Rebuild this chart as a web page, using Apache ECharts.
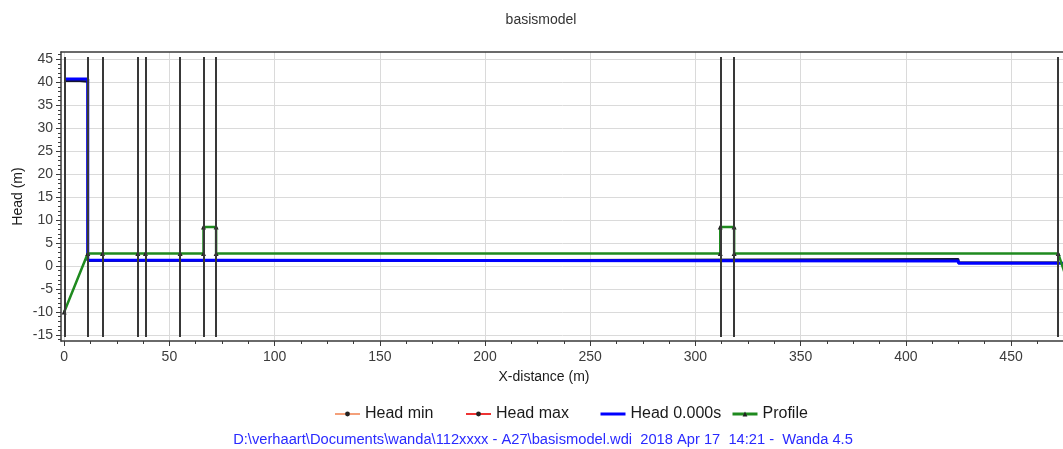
<!DOCTYPE html>
<html>
<head>
<meta charset="utf-8">
<script src="https://cdn.jsdelivr.net/npm/echarts@6/dist/echarts.min.js"></script>
<style>
html,body{margin:0;padding:0;background:#fff;overflow:hidden;}
#chart{width:1063px;height:449px;}
</style>
</head>
<body>
<div id="chart"></div>
<script>
// ---- data ----
const xTicks = [0, 50, 100, 150, 200, 250, 300, 350, 400, 450];
const yTicks = [-15, -10, -5, 0, 5, 10, 15, 20, 25, 30, 35, 40, 45];
const nodeX = [0.4, 11.2, 18.2, 35, 38.6, 55.1, 66.2, 72.2, 311.8, 318.4, 472.4];
const nodeYRange = [-15.45, 45.5];
const profile = [[0, -10], [11.2, 2.75], [18.2, 2.75], [35, 2.75], [38.6, 2.75], [55.1, 2.75],
  [66.2, 2.75], [66.2, 8.5], [72.2, 8.5], [72.2, 2.75], [311.8, 2.75], [311.8, 8.5],
  [318.4, 8.5], [318.4, 2.75], [472.4, 2.75], [476, -2.2]];
const head0 = [[0, 40.7], [11.2, 40.7], [11.2, 1.25], [72.2, 1.25], [72.2, 1.1], [425, 1.1],
  [425, 0.6], [478, 0.6]];
const headMin = [[0, 40.3], [7.5, 40.3], [8, 40.1], [11.2, 40.1], [11.2, 1.15], [425, 1.15],
  [425, 0.7], [472.4, 0.7]];
const headMax = [[0, 40.55], [11.2, 40.55], [11.2, 1.2], [140, 1.2], [140, 1.55], [425, 1.55],
  [425, 0.75], [472.4, 0.75]];

const XMIN = -1.52, XMAX = 484.2, YMIN = -16.31, YMAX = 46.59;
const FONT = 'Liberation Sans, Arial, sans-serif';

// minor tick positions (subdivisions of the major ticks)
const xMinor = [];
for (let i = 0; i < xTicks.length; i++) for (let k = 0; k < 4; k++) xMinor.push(xTicks[i] + k * 12.5);
const yMinor = [];
for (let v = Math.ceil(YMIN); v <= Math.floor(YMAX); v++) yMinor.push(v);

const chart = echarts.init(document.getElementById('chart'), null, {renderer: 'canvas'});
const axisDark = '#3a3a3a';

const legendBase = {
  top: 406, padding: 0, itemWidth: 25, itemHeight: 6, itemGap: 0,
  textStyle: {fontFamily: FONT, fontSize: 16, color: '#1a1a1a'}
};

const option = {
  animation: false,
  backgroundColor: '#ffffff',
  title: {
    text: 'basismodel', left: 536, top: 8, textAlign: 'center',
    textStyle: {fontFamily: FONT, fontSize: 14, fontWeight: 'normal', color: '#333'}
  },
  graphic: [{
    type: 'text', x: 543, y: 440,
    style: {
      text: 'D:\\verhaart\\Documents\\wanda\\112xxxx - A27\\basismodel.wdi  2018 Apr 17  14:21 -  Wanda 4.5',
      fill: '#2a2aff', font: '14.7px ' + FONT, textAlign: 'center', textVerticalAlign: 'middle'
    }
  }],
  legend: [
    Object.assign({}, legendBase, {left: 334, data: [{name: 'Head min', lineStyle: {color: '#f4a07a', width: 2}, itemStyle: {color: '#222'}}]}),
    Object.assign({}, legendBase, {left: 465, data: [{name: 'Head max', lineStyle: {color: '#ee3333', width: 2}, itemStyle: {color: '#222'}}]}),
    Object.assign({}, legendBase, {left: 599, data: [{name: 'Head 0.000s', lineStyle: {color: '#0000ff', width: 3}, itemStyle: {color: 'rgba(0,0,0,0)', borderWidth: 0, opacity: 0}}]}),
    Object.assign({}, legendBase, {left: 731, data: [{name: 'Profile', lineStyle: {color: '#1f8a1f', width: 3}, itemStyle: {color: '#222'}}]})
  ],
  grid: {left: 61, top: 52, width: 1022, height: 289, outerBoundsMode: 'none', containLabel: false},
  xAxis: [{
    type: 'value', min: XMIN, max: XMAX, splitNumber: 10,
    name: 'X-distance (m)', nameLocation: 'middle', nameGap: 29,
    nameTextStyle: {fontFamily: FONT, fontSize: 14, color: '#1a1a1a', padding: [0, 56, 0, 0]},
    axisLine: {show: true, onZero: false, lineStyle: {color: axisDark, width: 1.5}},
    axisTick: {show: true, length: 5, customValues: xTicks, lineStyle: {color: axisDark, width: 1}},
    axisLabel: {customValues: xTicks, margin: 9, fontFamily: FONT, fontSize: 14, color: '#3c3c3c'},
    splitLine: {show: true, lineStyle: {color: '#dadada', width: 1}}
  }, {
    type: 'value', min: XMIN, max: XMAX, position: 'bottom',
    axisLine: {show: false, onZero: false},
    axisTick: {show: true, length: 3, customValues: xMinor, lineStyle: {color: axisDark}},
    axisLabel: {show: false}, splitLine: {show: false}
  }, {
    type: 'value', min: XMIN, max: XMAX, position: 'top',
    axisLine: {show: true, onZero: false, lineStyle: {color: axisDark, width: 1.5}},
    axisTick: {show: false}, axisLabel: {show: false}, splitLine: {show: false}
  }],
  yAxis: [{
    type: 'value', min: YMIN, max: YMAX, splitNumber: 12,
    name: 'Head (m)', nameLocation: 'middle', nameGap: 36, nameMoveOverlap: false,
    nameTextStyle: {fontFamily: FONT, fontSize: 14, color: '#1a1a1a'},
    axisLine: {show: true, onZero: false, lineStyle: {color: axisDark, width: 1.5}},
    axisTick: {show: true, length: 5, customValues: yTicks, lineStyle: {color: axisDark}},
    axisLabel: {customValues: yTicks, margin: 8, fontFamily: FONT, fontSize: 14, color: '#3c3c3c'},
    splitLine: {show: true, lineStyle: {color: '#dadada', width: 1}}
  }, {
    type: 'value', min: YMIN, max: YMAX, position: 'left',
    axisLine: {show: false, onZero: false},
    axisTick: {show: true, length: 3, customValues: yMinor, lineStyle: {color: axisDark}},
    axisLabel: {show: false}, splitLine: {show: false}
  }],
  series: [{
    name: 'nodes', type: 'line', data: [], xAxisIndex: 0, yAxisIndex: 0, silent: true,
    markLine: {
      silent: true, symbol: 'none', animation: false, label: {show: false},
      lineStyle: {color: '#383838', width: 2, type: 'solid'},
      data: nodeX.map(x => [{coord: [x, nodeYRange[0]]}, {coord: [x, nodeYRange[1]]}])
    }
  }, {
    name: 'Head min', type: 'line', data: headMin, symbol: 'circle', symbolSize: 4, showSymbol: false,
    lineStyle: {color: '#151530', width: 2}, itemStyle: {color: '#151530'}
  }, {
    name: 'Head max', type: 'line', data: headMax, symbol: 'circle', symbolSize: 4, showSymbol: false,
    lineStyle: {color: '#151530', width: 2}, itemStyle: {color: '#151530'}
  }, {
    name: 'Head 0.000s', type: 'line', data: head0, symbol: 'none',
    lineStyle: {color: '#0000ff', width: 3}, itemStyle: {color: '#0000ff'}
  }, {
    name: 'Profile', type: 'line', data: profile, symbol: 'triangle', symbolSize: 5, showSymbol: true,
    lineStyle: {color: '#1f8a1f', width: 2.5}, itemStyle: {color: '#222'}, z: 3
  }]
};
chart.setOption(option);
</script>
</body>
</html>
